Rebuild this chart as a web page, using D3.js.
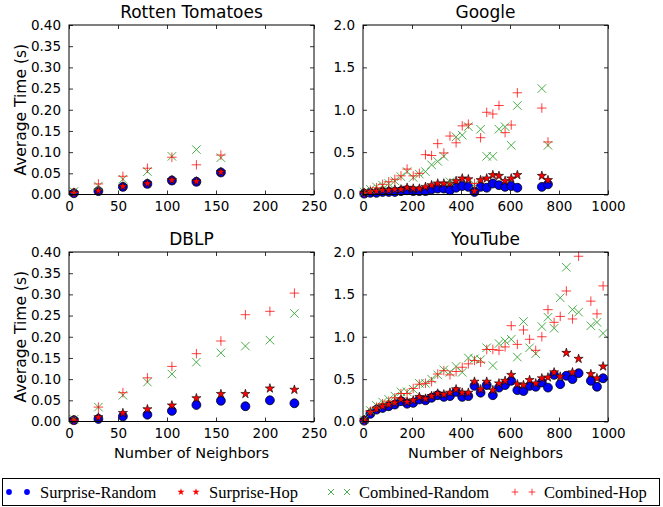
<!DOCTYPE html>
<html>
<head>
<meta charset="utf-8">
<script src="https://cdn.jsdelivr.net/npm/d3@7"></script>
<style>
  body { margin: 0; background: #fff; }
  svg { display: block; }
</style>
</head>
<body>
<div id="chart"></div>
<script>
// ---- data ----
const seriesNames = ['Surprise-Random', 'Surprise-Hop', 'Combined-Random', 'Combined-Hop']

const rtX = [5, 30, 55, 80, 105, 130, 155]
const rtSurpriseRandom = [0.003, 0.008, 0.018, 0.025, 0.033, 0.030, 0.052]
const rtSurpriseHop = [0.004, 0.009, 0.019, 0.026, 0.034, 0.031, 0.053]
const rtCombinedRandom = [0.007, 0.020, 0.036, 0.054, 0.090, 0.106, 0.087]
const rtCombinedHop = [0.005, 0.025, 0.043, 0.062, 0.088, 0.070, 0.093]

const googleX = [5, 30, 55, 80, 105, 130, 155, 180, 205, 230, 255, 280, 305, 330, 355, 380, 405, 430, 455, 480, 505, 530, 555, 580, 605, 630, 730, 755]
const googleSurpriseRandom = [0.01, 0.02, 0.02, 0.03, 0.03, 0.03, 0.04, 0.05, 0.04, 0.04, 0.04, 0.06, 0.07, 0.07, 0.05, 0.08, 0.10, 0.09, 0.03, 0.09, 0.08, 0.13, 0.11, 0.09, 0.10, 0.08, 0.09, 0.12]
const googleSurpriseHop = [0.02, 0.03, 0.04, 0.05, 0.05, 0.06, 0.06, 0.08, 0.07, 0.07, 0.09, 0.11, 0.13, 0.13, 0.13, 0.16, 0.19, 0.18, 0.04, 0.17, 0.19, 0.23, 0.22, 0.16, 0.19, 0.23, 0.22, 0.17]
const googleCombinedRandom = [0.03, 0.06, 0.09, 0.11, 0.13, 0.16, 0.21, 0.27, 0.20, 0.24, 0.27, 0.35, 0.39, 0.45, 0.15, 0.68, 0.70, 0.80, 0.12, 0.77, 0.45, 0.45, 0.77, 0.80, 0.58, 1.05, 1.25, 0.58]
const googleCombinedHop = [0.02, 0.05, 0.08, 0.12, 0.15, 0.18, 0.22, 0.30, 0.22, 0.25, 0.47, 0.46, 0.60, 0.49, 0.69, 0.61, 0.81, 0.83, 0.13, 0.67, 0.97, 0.95, 1.05, 0.73, 0.82, 1.20, 1.02, 0.62]

const dblpX = [5, 30, 55, 80, 105, 130, 155, 180, 205, 230]
const dblpSurpriseRandom = [0.003, 0.006, 0.012, 0.016, 0.025, 0.039, 0.049, 0.036, 0.050, 0.043]
const dblpSurpriseHop = [0.004, 0.010, 0.020, 0.029, 0.038, 0.055, 0.065, 0.065, 0.078, 0.075]
const dblpCombinedRandom = [0.005, 0.034, 0.062, 0.093, 0.112, 0.140, 0.162, 0.178, 0.192, 0.255]
const dblpCombinedHop = [0.003, 0.034, 0.068, 0.103, 0.130, 0.160, 0.190, 0.252, 0.260, 0.303]

const youtubeX = [5, 30, 55, 80, 105, 130, 155, 180, 205, 230, 255, 280, 305, 330, 355, 380, 405, 430, 455, 480, 505, 530, 555, 580, 605, 630, 655, 680, 705, 730, 755, 780, 805, 830, 855, 880, 930, 955, 980]
const youtubeSurpriseRandom = [0.01, 0.09, 0.14, 0.16, 0.18, 0.20, 0.24, 0.21, 0.22, 0.26, 0.25, 0.28, 0.31, 0.29, 0.30, 0.35, 0.29, 0.30, 0.42, 0.34, 0.43, 0.31, 0.40, 0.43, 0.48, 0.37, 0.36, 0.42, 0.41, 0.46, 0.40, 0.55, 0.44, 0.54, 0.50, 0.57, 0.48, 0.41, 0.51]
const youtubeSurpriseHop = [0.02, 0.11, 0.15, 0.18, 0.20, 0.22, 0.26, 0.23, 0.25, 0.29, 0.27, 0.30, 0.33, 0.32, 0.34, 0.38, 0.34, 0.34, 0.47, 0.38, 0.47, 0.37, 0.45, 0.48, 0.55, 0.44, 0.43, 0.49, 0.45, 0.51, 0.52, 0.58, 0.53, 0.81, 0.58, 0.74, 0.56, 0.51, 0.65]
const youtubeCombinedRandom = [0.02, 0.13, 0.19, 0.23, 0.26, 0.30, 0.35, 0.35, 0.38, 0.45, 0.45, 0.50, 0.55, 0.61, 0.58, 0.65, 0.58, 0.75, 0.74, 0.73, 0.87, 0.66, 0.92, 0.95, 0.97, 0.76, 1.18, 0.87, 0.80, 1.12, 1.23, 1.10, 1.46, 1.82, 1.32, 1.29, 1.13, 1.17, 1.04]
const youtubeCombinedHop = [0.01, 0.12, 0.17, 0.21, 0.24, 0.28, 0.33, 0.33, 0.39, 0.44, 0.45, 0.47, 0.56, 0.60, 0.55, 0.59, 0.64, 0.68, 0.72, 0.70, 0.85, 0.85, 0.84, 0.88, 1.13, 0.91, 1.08, 0.97, 0.84, 1.00, 1.32, 1.17, 1.24, 1.54, 1.21, 1.95, 1.42, 1.27, 1.60]

const smallXTicks = [0, 50, 100, 150, 200, 250]
const bigXTicks = [0, 200, 400, 600, 800, 1000]
const smallYTicks = [0, 0.05, 0.1, 0.15, 0.2, 0.25, 0.3, 0.35, 0.4]
const bigYTicks = [0, 0.5, 1, 1.5, 2]

// ---- layout ----
const width = 663, height = 507
const svg = d3.select('#chart').append('svg')
  .attr('width', width)
  .attr('height', height)

const panels = [
  {title: 'Rotten Tomatoes', xs: rtX, ys: [rtSurpriseRandom, rtSurpriseHop, rtCombinedRandom, rtCombinedHop],
    xMax: 250, yMax: 0.4, xTicks: smallXTicks, yTicks: smallYTicks, yFmt: d3.format('.2f'),
    left: 69, right: 314, top: 25, bottom: 194.5, yLabel: true, xLabel: false},
  {title: 'Google', xs: googleX, ys: [googleSurpriseRandom, googleSurpriseHop, googleCombinedRandom, googleCombinedHop],
    xMax: 1000, yMax: 2, xTicks: bigXTicks, yTicks: bigYTicks, yFmt: d3.format('.1f'),
    left: 363, right: 608, top: 25, bottom: 194.5, yLabel: false, xLabel: false},
  {title: 'DBLP', xs: dblpX, ys: [dblpSurpriseRandom, dblpSurpriseHop, dblpCombinedRandom, dblpCombinedHop],
    xMax: 250, yMax: 0.4, xTicks: smallXTicks, yTicks: smallYTicks, yFmt: d3.format('.2f'),
    left: 69, right: 314, top: 252, bottom: 421.5, yLabel: true, xLabel: true},
  {title: 'YouTube', xs: youtubeX, ys: [youtubeSurpriseRandom, youtubeSurpriseHop, youtubeCombinedRandom, youtubeCombinedHop],
    xMax: 1000, yMax: 2, xTicks: bigXTicks, yTicks: bigYTicks, yFmt: d3.format('.1f'),
    left: 363, right: 608, top: 252, bottom: 421.5, yLabel: false, xLabel: true}
]

// custom marker shapes
const xShape = {draw(ctx, size) {
  const r = Math.sqrt(size) / 2
  ctx.moveTo(-r, -r); ctx.lineTo(r, r)
  ctx.moveTo(-r, r); ctx.lineTo(r, -r)
}}
const plusShape = {draw(ctx, size) {
  const r = Math.sqrt(size) / 2
  ctx.moveTo(-r, 0); ctx.lineTo(r, 0)
  ctx.moveTo(0, -r); ctx.lineTo(0, r)
}}

const styles = [
  {type: d3.symbolCircle, size: 62, fill: '#0000ff', stroke: '#000', sw: 0.8, op: 1, legendSize: 26},
  {type: d3.symbolStar, size: 26, fill: '#ff0000', stroke: '#000', sw: 0.6, op: 1, legendSize: 16},
  {type: xShape, size: 72, fill: 'none', stroke: '#2ca02c', sw: 1, op: 0.85, legendSize: 36},
  {type: plusShape, size: 90, fill: 'none', stroke: '#ff0000', sw: 1, op: 0.75, legendSize: 44}
]

const font = 'DejaVu Sans'

panels.forEach(p => {
  const x = d3.scaleLinear().domain([0, p.xMax]).range([p.left, p.right])
  const y = d3.scaleLinear().domain([0, p.yMax]).range([p.bottom, p.top])
  const g = svg.append('g')

  // markers
  p.ys.forEach((vals, si) => {
    const st = styles[si]
    const sym = d3.symbol().type(st.type).size(st.size)
    g.append('g').selectAll('path')
      .data(vals.map((v, i) => [p.xs[i], v]))
      .enter().append('path')
      .attr('d', sym)
      .attr('transform', d => `translate(${x(d[0])},${y(d[1])})`)
      .attr('fill', st.fill)
      .attr('stroke', st.stroke)
      .attr('stroke-width', st.sw)
      .attr('opacity', st.op)
  })

  // axes, ticks pointing inward on all four sides
  const tick = 4
  g.append('g').attr('transform', `translate(0,${p.bottom})`)
    .call(d3.axisBottom(x).tickValues(p.xTicks).tickSizeInner(-tick).tickSizeOuter(0).tickPadding(7).tickFormat(d3.format('d')))
  g.append('g').attr('transform', `translate(0,${p.top})`)
    .call(d3.axisTop(x).tickValues(p.xTicks).tickSizeInner(-tick).tickSizeOuter(0).tickFormat(''))
  g.append('g').attr('transform', `translate(${p.left},0)`)
    .call(d3.axisLeft(y).tickValues(p.yTicks).tickSizeInner(-tick).tickSizeOuter(0).tickPadding(8).tickFormat(p.yFmt))
  g.append('g').attr('transform', `translate(${p.right},0)`)
    .call(d3.axisRight(y).tickValues(p.yTicks).tickSizeInner(-tick).tickSizeOuter(0).tickFormat(''))
  g.selectAll('.domain').remove()
  g.selectAll('.tick line').attr('stroke', '#000').attr('stroke-width', 0.8)
  g.selectAll('.tick text').attr('font-family', font).attr('font-size', 13.5).attr('fill', '#000')

  g.append('rect')
    .attr('x', p.left).attr('y', p.top)
    .attr('width', p.right - p.left).attr('height', p.bottom - p.top)
    .attr('fill', 'none').attr('stroke', '#000').attr('stroke-width', 1)

  g.append('text')
    .attr('x', (p.left + p.right) / 2).attr('y', p.top - 7)
    .attr('text-anchor', 'middle')
    .attr('font-family', font).attr('font-size', 17)
    .text(p.title)

  if (p.yLabel) {
    g.append('text')
      .attr('transform', `translate(26,${(p.top + p.bottom) / 2}) rotate(-90)`)
      .attr('text-anchor', 'middle')
      .attr('font-family', font).attr('font-size', 15.5)
      .text('Average Time (s)')
  }
  if (p.xLabel) {
    g.append('text')
      .attr('x', (p.left + p.right) / 2).attr('y', p.bottom + 36)
      .attr('text-anchor', 'middle')
      .attr('font-family', font).attr('font-size', 14.5)
      .text('Number of Neighbors')
  }
})

// ---- legend ----
const legend = svg.append('g')
legend.append('rect')
  .attr('x', 2.5).attr('y', 478.5).attr('width', 657).attr('height', 27)
  .attr('fill', '#fff').attr('stroke', '#000').attr('stroke-width', 1)

const legendMarkX = [[9, 27], [181, 196], [331, 347], [515, 532]]
const legendTextX = [40, 209, 359, 544]
seriesNames.forEach((name, i) => {
  const st = styles[i]
  const sym = d3.symbol().type(st.type).size(st.legendSize)
  legendMarkX[i].forEach(mx => {
    legend.append('path')
      .attr('d', sym)
      .attr('transform', `translate(${mx},492)`)
      .attr('fill', st.fill)
      .attr('stroke', i < 2 ? 'none' : st.stroke)
      .attr('stroke-width', st.sw)
      .attr('opacity', st.op)
  })
  legend.append('text')
    .attr('x', legendTextX[i]).attr('y', 497.5)
    .attr('font-family', 'Liberation Serif').attr('font-size', 16.5)
    .text(name)
})
</script>
</body>
</html>
